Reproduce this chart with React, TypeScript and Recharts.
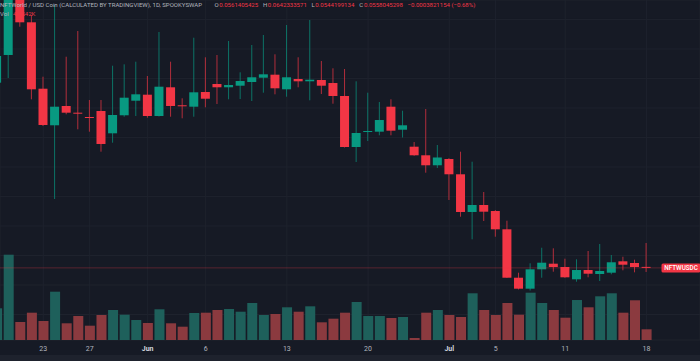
import React from 'react';
import {ComposedChart, Bar, XAxis, YAxis, CartesianGrid, ReferenceLine} from 'recharts';

// one candle per traded day (some late-June days have no trades)
const dates = [
    'May 19', 'May 20', 'May 21', 'May 22', 'May 23', 'May 24', 'May 25', 'May 26', 'May 27', 'May 28',
    'May 29', 'May 30', 'May 31', 'Jun 1', 'Jun 2', 'Jun 3', 'Jun 4', 'Jun 5', 'Jun 6', 'Jun 7',
    'Jun 8', 'Jun 9', 'Jun 10', 'Jun 11', 'Jun 12', 'Jun 13', 'Jun 14', 'Jun 15', 'Jun 16', 'Jun 17',
    'Jun 18', 'Jun 19', 'Jun 20', 'Jun 21', 'Jun 22', 'Jun 23', 'Jun 25', 'Jun 28', 'Jun 30', 'Jul 1',
    'Jul 2', 'Jul 3', 'Jul 4', 'Jul 5', 'Jul 6', 'Jul 7', 'Jul 8', 'Jul 9', 'Jul 10', 'Jul 11',
    'Jul 12', 'Jul 13', 'Jul 14', 'Jul 15', 'Jul 16', 'Jul 17', 'Jul 18',
];

const opens = [
    0.11858, 0.12797, 0.14932, 0.13905, 0.11654, 0.10414, 0.11068, 0.10841, 0.10695, 0.10898,
    0.10142, 0.10753, 0.11247, 0.11451, 0.10729, 0.11702, 0.11092, 0.11044, 0.11542, 0.11814,
    0.11702, 0.11756, 0.11881, 0.12027, 0.12129, 0.11634, 0.11983, 0.11905, 0.11949, 0.11847,
    0.11407, 0.09678, 0.10197, 0.10197, 0.11044, 0.10264, 0.09688, 0.09397, 0.09058, 0.09271,
    0.08753, 0.07475, 0.07712, 0.07508, 0.06888, 0.05247, 0.04875, 0.05532, 0.05722, 0.0561,
    0.05193, 0.05508, 0.05373, 0.05417, 0.05803, 0.05746, 0.0561405425,
];
const highs = [
    0.12966, 0.15136, 0.15068, 0.14153, 0.12061, 0.14492, 0.12739, 0.1361, 0.11271, 0.11271,
    0.12434, 0.12481, 0.1257, 0.12085, 0.13576, 0.1257, 0.11329, 0.13383, 0.12719, 0.12797,
    0.13271, 0.1221, 0.13136, 0.13475, 0.1282, 0.13814, 0.12719, 0.13983, 0.12593, 0.12346,
    0.12322, 0.11905, 0.11519, 0.11203, 0.11295, 0.10908, 0.09847, 0.10966, 0.09746, 0.093,
    0.09519, 0.0918, 0.08153, 0.0754, 0.0718, 0.05417, 0.05736, 0.06264, 0.06244, 0.05892,
    0.05871, 0.06153, 0.0639, 0.06017, 0.05959, 0.05858, 0.0642333571,
];
const lows = [
    0.11746, 0.12017, 0.13756, 0.11295, 0.1039, 0.07915, 0.10786, 0.10278, 0.10197, 0.09519,
    0.09824, 0.10705, 0.10729, 0.10671, 0.10712, 0.10705, 0.10651, 0.10705, 0.11024, 0.11136,
    0.11295, 0.11305, 0.11237, 0.11519, 0.11464, 0.11383, 0.11702, 0.11261, 0.11475, 0.11146,
    0.0966, 0.0917, 0.09881, 0.10075, 0.10075, 0.1, 0.0938, 0.08807, 0.08966, 0.07881,
    0.07315, 0.06549, 0.07169, 0.06637, 0.0524, 0.0485, 0.04814, 0.05247, 0.05451, 0.05244,
    0.05112, 0.05261, 0.05136, 0.05363, 0.05498, 0.0543, 0.0544199134,
];
const closes = [
    0.12763, 0.14932, 0.13905, 0.11634, 0.10424, 0.11044, 0.10841, 0.10807, 0.10661, 0.0978,
    0.10763, 0.11349, 0.11464, 0.10729, 0.11722, 0.11068, 0.11058, 0.11532, 0.11315, 0.11702,
    0.1178, 0.11915, 0.12041, 0.12142, 0.11668, 0.12041, 0.11905, 0.11959, 0.11756, 0.11407,
    0.09678, 0.10153, 0.1022, 0.10593, 0.10231, 0.10414, 0.09397, 0.09058, 0.09322, 0.08753,
    0.07475, 0.07712, 0.07485, 0.06888, 0.05247, 0.04875, 0.05532, 0.05756, 0.0561, 0.05261,
    0.05508, 0.05383, 0.05475, 0.0577, 0.05688, 0.0561, 0.0558045298,
];
// volume in thousands
const volumes = [
    134.9, 363, 76.6, 116.2, 80.9, 205.6, 71.1, 102.1, 60.9, 106.4,
    127.7, 107.7, 85.1, 72.4, 130.7, 71.1, 56.6, 114.9, 116.2, 127.7,
    131.9, 120.4, 157.5, 106.4, 110.7, 139.2, 120.4, 143.4, 75.3, 90.7,
    116.2, 161.7, 102.1, 102.1, 93.6, 97.9, 8.5, 116.2, 127.7, 106.4,
    97.9, 198.8, 127.7, 106.4, 157.5, 107.7, 201.3, 157.5, 127.7, 94.9,
    170.2, 139.2, 186, 198.8, 116.2, 169, 45.542,
];

const tickDates = ['May 23', 'May 27', 'Jun 1', 'Jun 6', 'Jun 13', 'Jun 20', 'Jul 1', 'Jul 5', 'Jul 11', 'Jul 18'];
const priceTicks = [0.04, 0.05, 0.06, 0.07, 0.08, 0.09, 0.1, 0.11, 0.12, 0.13, 0.14];

const BG = '#161a25';
const GRID = '#1e222d';
const UP = '#089981';
const DOWN = '#f23645';
const VOL_UP = '#1e605b';
const VOL_DOWN = '#8b3a3f';
const TEXT = '#b2b5be';

const last = closes.length - 1;

const rows = dates.map((d, i) => ({
    i,
    date: d,
    o: opens[i],
    h: highs[i],
    l: lows[i],
    c: closes[i],
    vol: volumes[i],
    up: closes[i] >= opens[i],
}));

const tickIdx = tickDates.map(d => dates.indexOf(d));

const labelFor = (i: number) => {
    const [mon, day] = dates[i].split(' ');
    return day === '1' ? mon : day;
};

const Candle = (props: any) => {
    const {x, y, width, height, payload} = props;
    const top = Math.min(y, y + height);
    const bottom = Math.max(y, y + height);
    const k = (bottom - top) / (payload.h - payload.l);
    const yO = top + (payload.h - payload.o) * k;
    const yC = top + (payload.h - payload.c) * k;
    const color = payload.up ? UP : DOWN;
    const cx = x + width / 2;
    return (
        <g>
            <rect x={cx - 0.5} y={top} width={1} height={bottom - top} fill={color} opacity={0.7}/>
            <rect x={x} y={Math.min(yO, yC)} width={width} height={Math.max(1, Math.abs(yO - yC))} fill={color}/>
        </g>
    );
};

const VolBar = (props: any) => {
    const {x, y, width, height, payload} = props;
    return <rect x={x} y={y} width={width} height={height} fill={payload.up ? VOL_UP : VOL_DOWN}/>;
};

const DateTick = (props: any) => {
    const {x, y, payload} = props;
    const label = labelFor(payload.value);
    const month = label.length > 2;
    return (
        <text x={x} y={y} dy={5} textAnchor="middle" fontFamily="Roboto" fontSize={7}
              fontWeight={month ? 700 : 400} fill={month ? '#d1d4dc' : TEXT}>
            {label}
        </text>
    );
};

const PriceTag = (props: any) => {
    const vb = props.viewBox || {};
    const right = vb.x + vb.width;
    return (
        <g>
            <rect x={right - 38.5} y={vb.y - 4.5} width={39} height={9} rx={1.5} fill={DOWN}/>
            <text x={right - 19} y={vb.y + 2.3} textAnchor="middle" fontFamily="Roboto" fontSize={6.3}
                  fontWeight={500} fill="#ffffff">NFTWUSDC</text>
        </g>
    );
};

const Header = () => (
    <svg width={700} height={20} style={{position: 'absolute', left: 0, top: 0, pointerEvents: 'none'}}
         fontFamily="Roboto" fontSize={6.05}>
        <text x={0} y={7.3} fill={TEXT}>NFTWorld / USD Coin (CALCULATED BY TRADINGVIEW), 1D, SPOOKYSWAP</text>
        <text x={214.5} y={7.3} fill={TEXT}>O</text>
        <text x={219.2} y={7.3} fill={DOWN}>{opens[last]}</text>
        <text x={263} y={7.3} fill={TEXT}>H</text>
        <text x={267.8} y={7.3} fill={DOWN}>{highs[last]}</text>
        <text x={311.5} y={7.3} fill={TEXT}>L</text>
        <text x={315.3} y={7.3} fill={DOWN}>{lows[last]}</text>
        <text x={359.3} y={7.3} fill={TEXT}>C</text>
        <text x={363.9} y={7.3} fill={DOWN}>{closes[last]}</text>
        <text x={407.5} y={7.3} fill={DOWN}>−0.0003821154 (−0.68%)</text>
        <text x={0} y={16} fill={TEXT}>Vol</text>
        <text x={13} y={16} fill={DOWN}>{volumes[last]}K</text>
    </svg>
);

const App = () => {
    return (
        <div style={{position: 'relative', width: 700, height: 361, background: BG, overflow: 'hidden'}}>
            <style>{'body{margin:0;background:' + BG + ';}'}</style>
            <div style={{position: 'absolute', left: 0, top: 355, width: 700, height: 6, background: '#1e222d'}}/>
            <ComposedChart width={700} height={361} data={rows} margin={{top: 0, right: 0, bottom: 0, left: 0}}>
                <CartesianGrid stroke={GRID} xAxisId="x" yAxisId="p"/>
                <XAxis xAxisId="x" dataKey="i" type="number" domain={[0.2673, 60.622]} allowDataOverflow
                       ticks={tickIdx} interval={0} height={21} axisLine={false} tickLine={false}
                       tickSize={0} tickMargin={6} tick={<DateTick/>}/>
                <XAxis xAxisId="v" dataKey="i" type="number" domain={[0.2673, 60.622]} allowDataOverflow
                       height={0} hide/>
                <YAxis yAxisId="p" type="number" domain={[0.031356, 0.14661]} allowDataOverflow
                       ticks={priceTicks} hide/>
                <YAxis yAxisId="v" type="number" domain={[0, 1447]} width={0} hide/>
                <Bar xAxisId="v" yAxisId="v" dataKey="vol" barSize={10} shape={<VolBar/>}
                     isAnimationActive={false}/>
                <ReferenceLine xAxisId="x" yAxisId="p" y={closes[last]} stroke={DOWN} strokeOpacity={0.3}
                               label={<PriceTag/>}/>
                <Bar xAxisId="x" yAxisId="p" dataKey={(d: any) => [d.l, d.h]} barSize={9} shape={<Candle/>}
                     isAnimationActive={false}/>
            </ComposedChart>
            <Header/>
        </div>
    );
};

export default App;
